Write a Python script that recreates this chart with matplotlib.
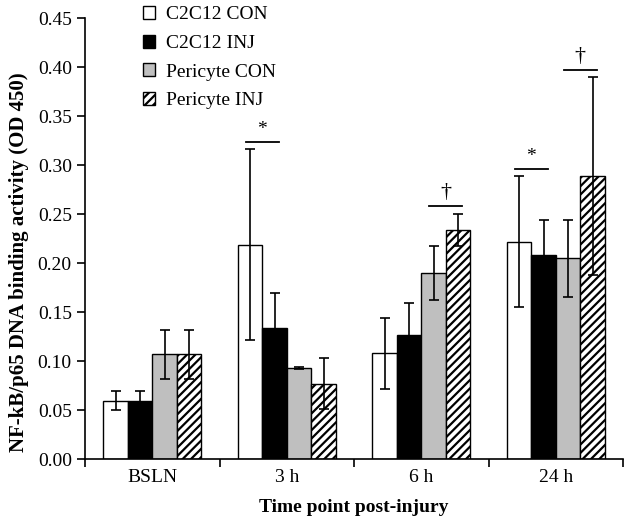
import matplotlib
matplotlib.use('Agg')
import matplotlib.pyplot as plt
import numpy as np

plt.rcParams['font.family'] = ['Liberation Serif', 'DejaVu Serif']
plt.rcParams['hatch.linewidth'] = 1.6

time_points = ["BSLN", "3 h", "6 h", "24 h"]
groups = ["C2C12 CON", "C2C12 INJ", "Pericyte CON", "Pericyte INJ"]

means = {
    "C2C12 CON":    [0.060, 0.219, 0.108, 0.222],
    "C2C12 INJ":    [0.060, 0.134, 0.127, 0.208],
    "Pericyte CON": [0.107, 0.093, 0.190, 0.205],
    "Pericyte INJ": [0.107, 0.077, 0.234, 0.289],
}
errors = {
    "C2C12 CON":    [0.010, 0.097, 0.036, 0.067],
    "C2C12 INJ":    [0.010, 0.036, 0.032, 0.036],
    "Pericyte CON": [0.025, 0.001, 0.028, 0.039],
    "Pericyte INJ": [0.025, 0.026, 0.016, 0.101],
}

# significance marks: (time index, pair of bars, line height, symbol)
sig_marks = [
    (1, (0, 1), 0.324, "*"),
    (2, (2, 3), 0.258, "\u2020"),
    (3, (0, 1), 0.296, "*"),
    (3, (2, 3), 0.397, "\u2020"),
]

face = {"C2C12 CON": "white", "C2C12 INJ": "black",
        "Pericyte CON": "#bfbfbf", "Pericyte INJ": "white"}
hatch = {"C2C12 CON": None, "C2C12 INJ": None,
         "Pericyte CON": None, "Pericyte INJ": "////"}

fig = plt.figure(figsize=(6.25, 5.22), dpi=100)
ax = fig.add_axes([0.136, 0.12, 0.861, 0.8455])

x = np.arange(len(time_points))
w = 0.182
offsets = (np.arange(4) - 1.5) * w

for i, g in enumerate(groups):
    ax.bar(x + offsets[i], means[g], width=w, color=face[g], edgecolor="black",
           linewidth=1.0, hatch=hatch[g], label=g, zorder=2)
    ax.errorbar(x + offsets[i], means[g], yerr=errors[g], fmt="none",
                ecolor="black", elinewidth=1.2, capsize=3.5, capthick=1.2,
                zorder=3)

for t, (a, b), h, sym in sig_marks:
    c = x[t] + (offsets[a] + offsets[b]) / 2
    ax.plot([c - 0.123, c + 0.123], [h, h], color="black", lw=1.3)
    fs = 14 if sym == "*" else 16
    ax.text(c, h + 0.004, sym, ha="center", va="bottom", fontsize=fs)

ax.set_xlim(-0.5, 3.5)
ax.set_ylim(0, 0.45)
ax.set_yticks(np.arange(0, 0.451, 0.05))
ax.set_yticklabels([f"{v:.2f}" for v in np.arange(0, 0.451, 0.05)], fontsize=14)
ax.set_xticks(x)
ax.set_xticklabels(time_points, fontsize=14)
ax.tick_params(axis="x", length=0, pad=7)
ax.set_xticks(np.arange(-0.5, 3.6, 1), minor=True)
ax.tick_params(axis="x", which="minor", length=6, width=1.2, direction="out")
ax.tick_params(axis="y", length=6, width=1.2, direction="out")

for s in ["top", "right"]:
    ax.spines[s].set_visible(False)
for s in ["left", "bottom"]:
    ax.spines[s].set_linewidth(1.2)

ax.set_ylabel("NF-kB/p65 DNA binding activity (OD 450)", fontsize=15,
              fontweight="bold")
ax.yaxis.set_label_coords(-0.104, 0.447)
ax.set_xlabel("Time point post-injury", fontsize=14, fontweight="bold",
              labelpad=9)

ax.legend(loc="upper left", bbox_to_anchor=(0.2, 1.022),
          bbox_transform=fig.transFigure, frameon=False, fontsize=14,
          handlelength=0.65, handleheight=0.65, handletextpad=0.55,
          labelspacing=0.58)

fig.savefig("out.png", dpi=100)
